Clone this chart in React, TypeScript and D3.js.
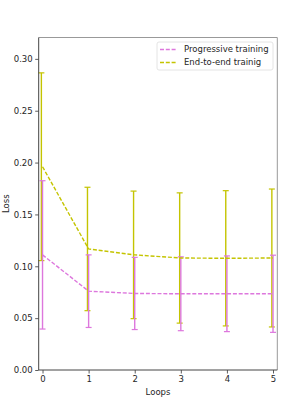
import { useRef, useEffect } from "react";
import * as d3 from "d3";

const LOOPS = [0, 1, 2, 3, 4, 5];
const PROG_MEAN = [0.111, 0.076, 0.0738, 0.0735, 0.0735, 0.0735];
const PROG_ERR = [0.0715, 0.035, 0.0348, 0.0356, 0.0365, 0.0372];
const E2E_MEAN = [0.196, 0.1167, 0.111, 0.108, 0.1077, 0.108];
const E2E_ERR = [0.0905, 0.0595, 0.0615, 0.0628, 0.0652, 0.0665];
const Y_TICKS = [0, 0.05, 0.1, 0.15, 0.2, 0.25, 0.3];

const PINK = "#dd77dd";
const OLIVE = "#c4c400";
const FONT = "DejaVu Sans, sans-serif";

const W = 298;
const H = 416;
const M = { left: 38.7, right: 277.3, top: 37.5, bottom: 370 };

export default function App() {
  const svgRef = useRef<SVGSVGElement>(null);

  useEffect(() => {
    if (!svgRef.current) return;
    const svg = d3.select(svgRef.current);
    svg.selectAll("*").remove();

    const x = d3.scaleLinear().domain([-0.083, 5.093]).range([M.left, M.right]);
    const y = d3.scaleLinear().domain([0, 0.3206]).range([M.bottom, M.top]);

    const series = [
      { name: "Progressive training", mean: PROG_MEAN, err: PROG_ERR, color: PINK, dx: 0 },
      { name: "End-to-end trainig", mean: E2E_MEAN, err: E2E_ERR, color: OLIVE, dx: -0.025 },
    ];

    const line = d3
      .line<number>()
      .x((_, i) => x(LOOPS[i]))
      .y((d) => y(d));

    // error bars first, then dashed means on top
    series
      .slice()
      .reverse()
      .forEach((s) => {
        const g = svg.append("g");
        LOOPS.forEach((l, i) => {
          const cx = x(l + s.dx);
          const lo = y(s.mean[i] - s.err[i]);
          const hi = y(s.mean[i] + s.err[i]);
          g.append("line")
            .attr("x1", cx).attr("x2", cx)
            .attr("y1", lo).attr("y2", hi)
            .attr("stroke", s.color).attr("stroke-width", 1.4);
          [lo, hi].forEach((cy) => {
            g.append("line")
              .attr("x1", cx - 3).attr("x2", cx + 3)
              .attr("y1", cy).attr("y2", cy)
              .attr("stroke", s.color).attr("stroke-width", 1.2);
          });
        });
      });

    series.forEach((s) => {
      svg.append("path")
        .datum(s.mean)
        .attr("d", line)
        .attr("fill", "none")
        .attr("stroke", s.color)
        .attr("stroke-width", 1.4)
        .attr("stroke-dasharray", "4,1.8");
    });

    // axes
    const yAxis = svg
      .append("g")
      .attr("transform", `translate(${M.left},0)`)
      .call(d3.axisLeft(y).tickValues(Y_TICKS).tickFormat(d3.format(".2f")).tickSize(3.5).tickPadding(2.5));
    const xAxis = svg
      .append("g")
      .attr("transform", `translate(0,${M.bottom})`)
      .call(d3.axisBottom(x).tickValues(LOOPS).tickFormat(d3.format("d")).tickSize(3.5).tickPadding(2.5));
    [yAxis, xAxis].forEach((a) => {
      a.select(".domain").remove();
      a.selectAll("line").attr("stroke", "#333").attr("stroke-width", 0.8);
      a.selectAll("text").attr("fill", "#262626").attr("font-size", 8.5).attr("font-family", FONT);
    });

    // spines
    svg.append("line").attr("x1", M.left).attr("x2", M.right).attr("y1", M.top).attr("y2", M.top)
      .attr("stroke", "#999").attr("stroke-width", 1);
    svg.append("line").attr("x1", M.right).attr("x2", M.right).attr("y1", M.top).attr("y2", M.bottom)
      .attr("stroke", "#999").attr("stroke-width", 1);
    svg.append("line").attr("x1", M.left).attr("x2", M.left).attr("y1", M.top).attr("y2", M.bottom)
      .attr("stroke", "#444").attr("stroke-width", 1);
    svg.append("line").attr("x1", M.left).attr("x2", M.right).attr("y1", M.bottom).attr("y2", M.bottom)
      .attr("stroke", "#444").attr("stroke-width", 1);

    // axis labels
    svg.append("text")
      .attr("x", (M.left + M.right) / 2).attr("y", 395)
      .attr("text-anchor", "middle").attr("font-size", 8.5).attr("font-family", FONT).attr("fill", "#262626")
      .text("Loops");
    svg.append("text")
      .attr("transform", `translate(9,${(M.top + M.bottom) / 2}) rotate(-90)`)
      .attr("text-anchor", "middle").attr("font-size", 8.5).attr("font-family", FONT).attr("fill", "#262626")
      .text("Loss");

    // legend
    const lg = svg.append("g");
    lg.append("rect")
      .attr("x", 157).attr("y", 42).attr("width", 116).attr("height", 28).attr("rx", 2)
      .attr("fill", "white").attr("stroke", "#ddd").attr("stroke-width", 0.8);
    series.forEach((s, i) => {
      const cy = 49.5 + i * 13;
      lg.append("line")
        .attr("x1", 160).attr("x2", 177).attr("y1", cy).attr("y2", cy)
        .attr("stroke", s.color).attr("stroke-width", 1.4).attr("stroke-dasharray", "4,1.8");
      lg.append("text")
        .attr("x", 184).attr("y", cy).attr("dy", "0.35em")
        .attr("font-size", 8.5).attr("font-family", FONT).attr("fill", "#262626")
        .text(s.name);
    });
  }, []);

  return (
    <div style={{ position: "absolute", left: 0, top: 0, width: W, height: H, background: "white" }}>
      <svg ref={svgRef} width={W} height={H} />
    </div>
  );
}
